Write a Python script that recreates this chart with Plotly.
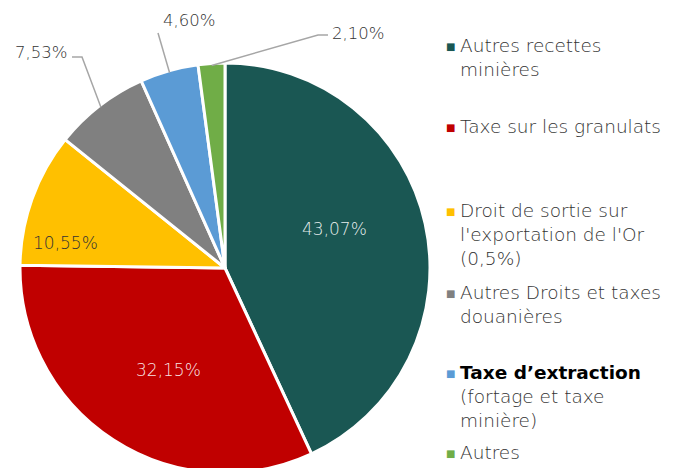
import math
import plotly.graph_objects as go

W, H = 681, 468
OFF = 8  # page offset of the figure (body margin)

labels = [
    "Autres recettes minières",
    "Taxe sur les granulats",
    "Droit de sortie sur l'exportation de l'Or (0,5%)",
    "Autres Droits et taxes douanières",
    "Taxe d’extraction (fortage et taxe minière)",
    "Autres",
]
legend_text = [
    "Autres recettes<br>minières",
    "Taxe sur les granulats",
    "Droit de sortie sur<br>l'exportation de l'Or<br>(0,5%)",
    "Autres Droits et taxes<br>douanières",
    "<b style='color:#000000'>Taxe d’extraction</b><br>(fortage et taxe<br>minière)",
    "Autres",
]
values = [43.07, 32.15, 10.55, 7.53, 4.60, 2.10]
colors = ["#1A5753", "#C00000", "#FFC000", "#808080", "#5B9BD5", "#70AD47"]

FONT = "DejaVu Sans"
GREY_TXT = "#333333"
LIGHT_TXT = "rgba(255,255,255,0.9)"


def pct(v):
    return f"{v:.2f}".replace(".", ",") + "%"


# pie placement (screen pixels)
R = 205
CX, CY = 225, 268


def to_paper(px, py):
    return (px - OFF) / W, 1 - (py - OFF) / H


def edge_point(i, r):
    tot = sum(values)
    mid = (sum(values[:i]) + values[i] / 2) / tot
    a = 2 * math.pi * mid
    return CX + r * math.sin(a), CY - r * math.cos(a)


x0, y1 = to_paper(CX - R, CY - R)
x1, y0 = to_paper(CX + R, CY + R)
fig = go.Figure(
    go.Pie(
        labels=labels,
        values=values,
        sort=False,
        direction="clockwise",
        rotation=0,
        marker=dict(colors=colors, line=dict(color="white", width=3)),
        textinfo="none",
        domain=dict(x=[x0, x1], y=[max(0, y0), min(1, y1)]),
        showlegend=False,
        hoverinfo="label+percent",
    )
)

# data labels inside the big slices
inside = {
    0: dict(pos=(334, 229), color=LIGHT_TXT),
    1: dict(pos=(168, 370), color=LIGHT_TXT),
    2: dict(pos=(65, 243), color=GREY_TXT),
}
for i, o in inside.items():
    lx, ly = to_paper(*o["pos"])
    fig.add_annotation(x=lx, y=ly, xref="paper", yref="paper", text=pct(values[i]),
                       showarrow=False, xanchor="center", yanchor="middle",
                       font=dict(family=FONT, size=17, weight=300, color=o["color"]))

# outside labels with leader lines (small slices)
outside = {
    3: dict(elbow=[(82, 57), (72, 57)], lab=(69, 52), anchor="right"),
    4: dict(elbow=[(158, 33)], lab=(189, 20), anchor="center"),
    5: dict(elbow=[(318, 35), (328, 35)], lab=(330, 33), anchor="left"),
}
for i, o in outside.items():
    pts = [edge_point(i, R - 2)] + o["elbow"]
    path = "M " + " L ".join("{:.5f},{:.5f}".format(*to_paper(x, y)) for x, y in pts)
    fig.add_shape(type="path", xref="paper", yref="paper", path=path,
                  line=dict(color="#A6A6A6", width=1.5))
    lx, ly = to_paper(*o["lab"])
    fig.add_annotation(x=lx, y=ly, xref="paper", yref="paper", text=pct(values[i]),
                       showarrow=False, xanchor=o["anchor"], yanchor="middle",
                       font=dict(family=FONT, size=16.5, weight=300, color=GREY_TXT))

# legend
legend_y = [46, 127, 211, 293, 373, 453]
for txt, col, y in zip(legend_text, colors, legend_y):
    sx, sy = to_paper(451, y)
    fig.add_annotation(x=sx, y=sy, xref="paper", yref="paper", text="■",
                       showarrow=False, xanchor="center", yanchor="middle",
                       font=dict(family=FONT, size=10, color=col))
    tx, ty = to_paper(458, y - 13)
    fig.add_annotation(x=tx, y=ty, xref="paper", yref="paper", text=txt,
                       showarrow=False, xanchor="left", yanchor="top", align="left",
                       font=dict(family=FONT, size=18.5, weight=300, color=GREY_TXT))

fig.update_layout(
    width=W,
    height=H,
    margin=dict(l=0, r=0, t=0, b=0),
    paper_bgcolor="white",
    plot_bgcolor="white",
)

fig.write_html("out.html")
